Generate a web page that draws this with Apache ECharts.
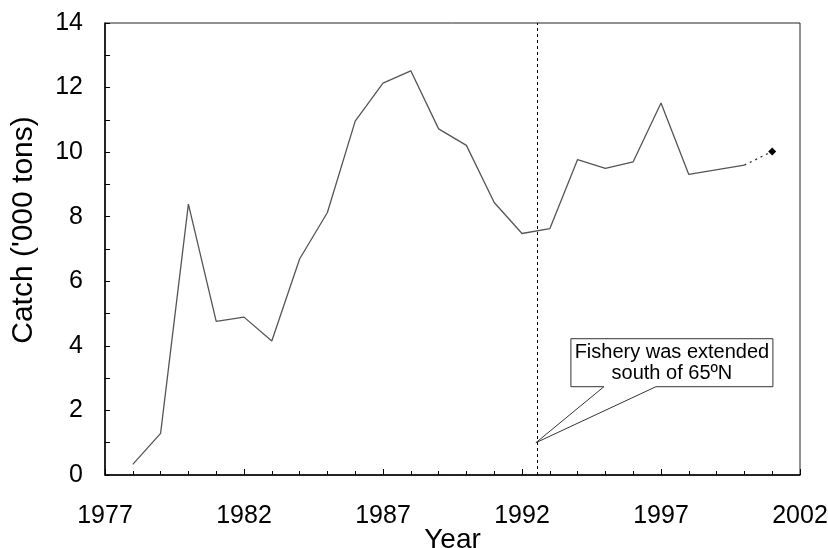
<!DOCTYPE html>
<html>
    <head>
        <meta charset="UTF-8">
        <title>Catch</title>
        <script src="https://cdn.jsdelivr.net/npm/echarts@6/dist/echarts.min.js"></script>
    </head>
    <body style="margin:0;">
        <div id="main" style="width:828px; height:548px;"></div>
        <script>
            // catch per year ('000 tons)
            var years = [1978, 1979, 1980, 1981, 1982, 1983, 1984, 1985, 1986, 1987, 1988,
                         1989, 1990, 1991, 1992, 1993, 1994, 1995, 1996, 1997, 1998, 2000];
            var catches = [0.33, 1.29, 8.39, 4.76, 4.89, 4.15, 6.69, 8.13, 10.96, 12.14, 12.52,
                           10.72, 10.21, 8.44, 7.48, 7.63, 9.77, 9.50, 9.70, 11.52, 9.31, 9.60];
            // provisional last year, drawn dotted
            var extYears = [2000, 2001];
            var extCatches = [9.60, 10.02];
            // the year the fishery was extended, and where the callout points
            var extendedYear = 1992.55;
            var calloutTip = [1992.5, 1.0];
            var calloutText = 'Fishery was extended\nsouth of 65ºN';

            var font = 'Liberation Sans, Arial, sans-serif';
            var chart = echarts.init(document.getElementById('main'));

            var mainData = years.map(function (y, i) { return [y, catches[i]]; });
            var extData = extYears.map(function (y, i) {
                return { value: [y, extCatches[i]], symbol: i === extYears.length - 1 ? 'diamond' : 'none' };
            });

            var option = {
                animation: false,
                grid: {
                    left: 105, right: 28, top: 23, bottom: 73,
                    outerBoundsMode: 'none',
                    containLabel: false,
                    show: true, borderColor: '#222', borderWidth: 1
                },
                xAxis: {
                    type: 'value',
                    min: 1977, max: 2002, interval: 5,
                    name: 'Year',
                    nameLocation: 'middle',
                    nameGap: 51,
                    nameMoveOverlap: false,
                    nameTextStyle: { fontFamily: font, fontSize: 28, color: '#000' },
                    axisLine: { lineStyle: { color: '#000', width: 1.5 } },
                    axisTick: { inside: true, length: 6, lineStyle: { color: '#000' } },
                    minorTick: { show: true, splitNumber: 5, length: 4, lineStyle: { color: '#000' } },
                    axisLabel: {
                        fontFamily: font, fontSize: 25, color: '#000', margin: 29,
                        formatter: function (v) { return String(v); }
                    },
                    splitLine: { show: false }
                },
                yAxis: {
                    type: 'value',
                    min: 0, max: 14, interval: 2,
                    name: "Catch ('000 tons)",
                    nameLocation: 'middle',
                    nameGap: 66,
                    nameMoveOverlap: false,
                    nameTextStyle: { fontFamily: font, fontSize: 30, color: '#000', padding: [0, 0, 0, 38] },
                    axisLine: { show: true, lineStyle: { color: '#000', width: 1.5 } },
                    axisTick: { show: true, inside: true, length: 5, lineStyle: { color: '#000' } },
                    minorTick: { show: true, splitNumber: 2, length: 5, lineStyle: { color: '#000' } },
                    axisLabel: { fontFamily: font, fontSize: 25, color: '#000', margin: 22 },
                    splitLine: { show: false }
                },
                series: [
                    {
                        type: 'line',
                        data: mainData,
                        symbol: 'none',
                        lineStyle: { color: '#555', width: 1.3 },
                        markLine: {
                            silent: true,
                            symbol: 'none',
                            label: { show: false },
                            lineStyle: { color: '#000', width: 1, type: [3, 3] },
                            data: [{ xAxis: extendedYear }]
                        }
                    },
                    {
                        type: 'line',
                        data: extData,
                        symbolSize: 8,
                        itemStyle: { color: '#000' },
                        lineStyle: { color: '#333', width: 1.3, type: [2, 4] }
                    }
                ]
            };
            chart.setOption(option);

            // callout box with a wedge pointing at the extension year
            var tip = chart.convertToPixel({ gridIndex: 0 }, calloutTip);
            var bx0 = tip[0] + 35, bx1 = tip[0] + 237;
            var by0 = tip[1] - 104, by1 = tip[1] - 56;
            chart.setOption({
                graphic: [
                    {
                        type: 'polygon',
                        z: 10,
                        shape: {
                            points: [
                                [bx0, by0], [bx1, by0], [bx1, by1],
                                [tip[0] + 120, by1], tip, [tip[0] + 68, by1], [bx0, by1]
                            ]
                        },
                        style: { fill: '#fff', stroke: '#333', lineWidth: 1 }
                    },
                    {
                        type: 'text',
                        z: 11,
                        x: (bx0 + bx1) / 2,
                        y: (by0 + by1) / 2,
                        style: {
                            text: calloutText,
                            font: '20px ' + font,
                            fill: '#000',
                            align: 'center',
                            verticalAlign: 'middle',
                            lineHeight: 21
                        }
                    }
                ]
            });
        </script>
    </body>
</html>
